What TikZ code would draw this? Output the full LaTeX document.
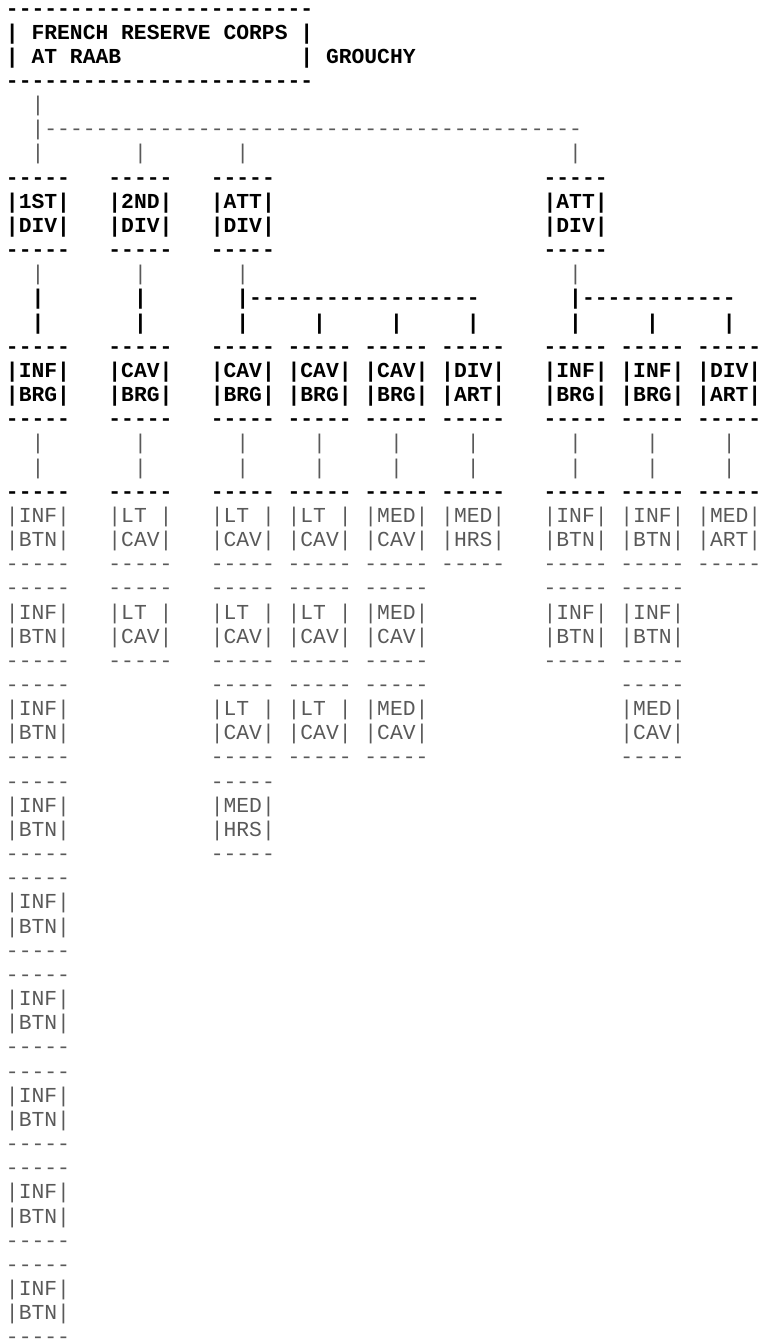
\documentclass[tikz,border=0pt]{standalone}
\usepackage{fontspec}
\newfontfamily\asciifont{Liberation Mono}
\tikzset{
  boldtext/.style={anchor=base west,inner sep=0pt,font=\asciifont\fontsize{16pt}{18pt}\selectfont\bfseries},
  plaintext/.style={anchor=base west,inner sep=0pt,font=\asciifont\fontsize{16pt}{18pt}\selectfont,text=black!65}
}
\begin{document}
\begin{tikzpicture}[x=9.6pt,y=-18.12pt]
 \useasboundingbox (-4.3pt,11.25pt) rectangle (567.2pt,-993.75pt);
 % corps header
 \node[boldtext] (hdtop) at (0,0) {------------------------};
 \node[boldtext] (hdone) at (0,1) {|~FRENCH~RESERVE~CORPS~|};
 \node[boldtext] (hdtwo) at (0,2) {|~AT~RAAB};
 \node[boldtext] (hdcmd) at (23,2) {|~GROUCHY};
 \node[boldtext] (hdbot) at (0,3) {------------------------};
 % line down to the divisions
 \node[plaintext] (stem) at (2,4) {|};
 \node[plaintext] (bar) at (2,5) {|------------------------------------------};
 % divisions
 \foreach \c/\n [count=\i] in {0/1ST,8/2ND,16/ATT,42/ATT} {
   \node[plaintext] (dup\i) at (\c+2,6) {|};
   \node[boldtext] (dtop\i) at (\c,7) {-----};
   \node[boldtext] (dnum\i) at (\c,8) {|\n|};
   \node[boldtext] (dname\i) at (\c,9) {|DIV|};
   \node[boldtext] (dbot\i) at (\c,10) {-----};
   \node[plaintext] (ddown\i) at (\c+2,11) {|};
 }
 \node[boldtext] (split1) at (2,12) {|};
 \node[boldtext] (split2) at (10,12) {|};
 \node[boldtext] (split3) at (18,12) {|------------------};
 \node[boldtext] (split4) at (44,12) {|------------};
 % brigades and their first units
 \foreach \c/\a/\b/\s/\t [count=\i] in {0/INF/BRG/INF/BTN,8/CAV/BRG/LT~/CAV,16/CAV/BRG/LT~/CAV,
     22/CAV/BRG/LT~/CAV,28/CAV/BRG/MED/CAV,34/DIV/ART/MED/HRS,42/INF/BRG/INF/BTN,
     48/INF/BRG/INF/BTN,54/DIV/ART/MED/ART} {
   \node[boldtext] (bup\i) at (\c+2,13) {|};
   \node[boldtext] (btop\i) at (\c,14) {-----};
   \node[boldtext] (bone\i) at (\c,15) {|\a|};
   \node[boldtext] (btwo\i) at (\c,16) {|\b|};
   \node[boldtext] (bbot\i) at (\c,17) {-----};
   \node[plaintext] (bdowna\i) at (\c+2,18) {|};
   \node[plaintext] (bdownb\i) at (\c+2,19) {|};
   \node[boldtext] (utop\i) at (\c,20) {-----};
   \node[plaintext] (uone\i) at (\c,21) {|\s|};
   \node[plaintext] (utwo\i) at (\c,22) {|\t|};
   \node[plaintext] (ubot\i) at (\c,23) {-----};
 }
 % further units
 \foreach \c/\y/\s/\t [count=\i] in {0/24/INF/BTN,8/24/LT~/CAV,16/24/LT~/CAV,22/24/LT~/CAV,
     28/24/MED/CAV,42/24/INF/BTN,48/24/INF/BTN,0/28/INF/BTN,16/28/LT~/CAV,22/28/LT~/CAV,
     28/28/MED/CAV,48/28/MED/CAV,0/32/INF/BTN,16/32/MED/HRS,0/36/INF/BTN,0/40/INF/BTN,
     0/44/INF/BTN,0/48/INF/BTN,0/52/INF/BTN} {
   \node[plaintext] (vtop\i) at (\c,\y) {-----};
   \node[plaintext] (vone\i) at (\c,\y+1) {|\s|};
   \node[plaintext] (vtwo\i) at (\c,\y+2) {|\t|};
   \node[plaintext] (vbot\i) at (\c,\y+3) {-----};
 }
\end{tikzpicture}
\end{document}
